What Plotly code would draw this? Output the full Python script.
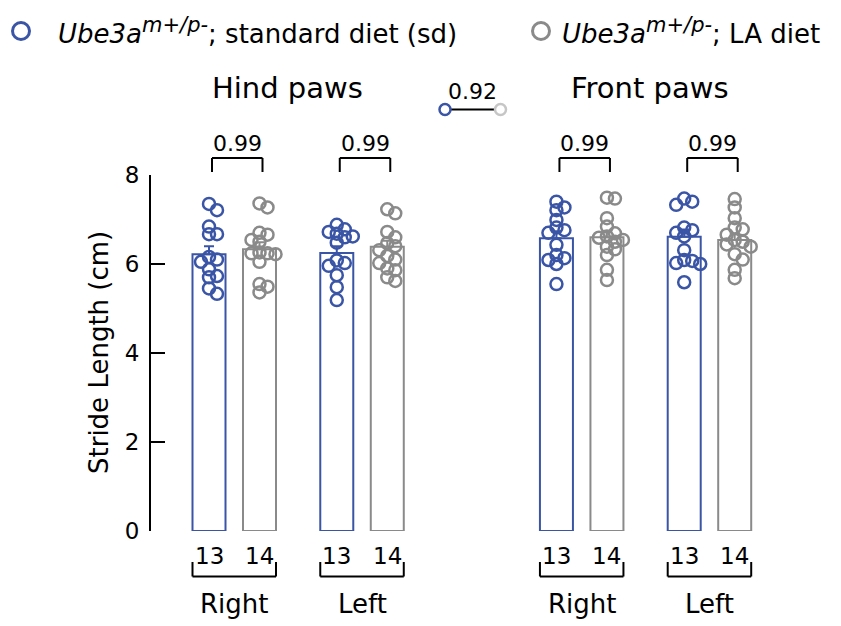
import numpy as np
import plotly.graph_objects as go

# ---- data: stride length (cm) per mouse ----
paws = ["Hind paws", "Front paws"]
sides = ["Right", "Left"]
diet_names = ["standard diet (sd)", "LA diet"]

hind_right_sd = [7.35, 7.21, 6.84, 6.67, 6.67, 6.16, 6.10, 6.05, 5.88, 5.73, 5.70, 5.45, 5.33]
hind_right_la = [7.36, 7.27, 6.70, 6.66, 6.54, 6.50, 6.26, 6.24, 6.24, 6.22, 6.05, 5.55, 5.49, 5.36]
hind_left_sd = [6.88, 6.78, 6.72, 6.68, 6.62, 6.60, 6.48, 6.08, 6.02, 5.96, 5.75, 5.48, 5.19]
hind_left_la = [7.23, 7.14, 6.72, 6.60, 6.47, 6.40, 6.31, 6.18, 6.10, 6.02, 5.90, 5.86, 5.70, 5.62]
front_right_sd = [7.40, 7.27, 7.21, 6.99, 6.82, 6.76, 6.70, 6.43, 6.20, 6.13, 6.09, 6.00, 5.55]
front_right_la = [7.49, 7.47, 7.03, 6.84, 6.69, 6.62, 6.59, 6.54, 6.50, 6.39, 6.33, 6.20, 5.87, 5.64]
front_left_sd = [7.47, 7.40, 7.33, 6.82, 6.76, 6.70, 6.62, 6.31, 6.09, 6.07, 6.02, 6.00, 5.59]
front_left_la = [7.46, 7.27, 7.03, 6.82, 6.78, 6.66, 6.54, 6.50, 6.44, 6.39, 6.22, 6.10, 5.87, 5.68]

# group means (bar heights), order: hind-right, hind-left, front-right, front-left
mean_sd = [6.22, 6.25, 6.58, 6.61]
mean_la = [6.33, 6.39, 6.60, 6.54]

# p-values: sd vs LA within each group, and the overall diet comparison
p_pairs = ["0.99", "0.99", "0.99", "0.99"]
p_overall = "0.92"

y_ticks = [0, 2, 4, 6, 8]

# ---- styling / geometry ----
FONT = "DejaVu Sans"
BLUE = "#3a55a6"
GREY = "#8a8a8a"
LIGHT = "#c6c6c6"
W, H = 841, 626
L, R, T, B = 151, 52, 175, 95
PW, PH = W - L - R, H - T - B
PX_X = 50.5                      # pixels per x unit
XMIN = -58 / PX_X
XMAX = XMIN + PW / PX_X
YMAX = 8
PX_Y = PH / YMAX
BAR_W = 33 / PX_X

sd_sets = [hind_right_sd, hind_left_sd, front_right_sd, front_left_sd]
la_sets = [hind_right_la, hind_left_la, front_right_la, front_left_la]

# x positions of sd bars; LA bar sits one unit to the right
SIDE_STEP, PAW_STEP = 2.53, 6.88
pos_sd = [p * PAW_STEP + s * SIDE_STEP for p in range(2) for s in range(2)]
pos_la = [x + 1 for x in pos_sd]

# centres of the two paw titles (pixels)
title_px = [287, 650]


def fx(px):
    return (px - L) / PW


def fy(py):
    return (H - B - py) / PH


def dx_to_paper(x):
    return (x - XMIN) / (XMAX - XMIN)


def swarm(vals, d=7.5, step=8.0):
    """Simple beeswarm offsets (in x units) so open circles do not stack."""
    placed = []
    order = np.argsort(vals)[::-1]
    out = np.zeros(len(vals))
    for i in order:
        y = vals[i] * PX_Y
        best, best_score = 0.0, -1
        for k in [0, 1, -1, 2, -2]:
            dx = k * step
            dmin = min([np.hypot(dx - px, y - py) for px, py in placed] or [1e9])
            if dmin >= d:
                best = dx
                break
            if dmin > best_score:
                best, best_score = dx, dmin
        placed.append((best, y))
        out[i] = best / PX_X
    return out


def sem(v):
    v = np.asarray(v)
    return float(np.std(v, ddof=1) / np.sqrt(len(v)))


fig = go.Figure()

for pos, means, sets, col in [(pos_sd, mean_sd, sd_sets, BLUE), (pos_la, mean_la, la_sets, GREY)]:
    fig.add_trace(go.Bar(
        x=pos, y=means, width=BAR_W,
        marker=dict(color="white", line=dict(color=col, width=2)),
        error_y=dict(type="data", symmetric=False, array=[sem(s) for s in sets],
                     arrayminus=[0] * len(sets), color=col, thickness=2, width=5),
        showlegend=False, hoverinfo="skip",
    ))

for pos, sets, col in [(pos_sd, sd_sets, BLUE), (pos_la, la_sets, GREY)]:
    for x0, vals in zip(pos, sets):
        v = np.asarray(vals)
        fig.add_trace(go.Scatter(
            x=x0 + swarm(v), y=v, mode="markers",
            marker=dict(symbol="circle-open", size=12, color=col, line=dict(width=2.5)),
            showlegend=False, hoverinfo="skip", cliponaxis=False,
        ))

shapes, anns = [], []


def text(t, px, py, size, **kw):
    anns.append(dict(text=t, x=fx(px), y=fy(py), xref="paper", yref="paper",
                     showarrow=False, xanchor=kw.pop("xanchor", "center"),
                     yanchor=kw.pop("yanchor", "middle"),
                     font=dict(family=FONT, size=size, color="black"), **kw))


def line(x0, y0, x1, y1, col="black", w=2):
    shapes.append(dict(type="line", xref="paper", yref="paper",
                       x0=x0, y0=y0, x1=x1, y1=y1, line=dict(color=col, width=w)))


def ring(px, py, r, col, w):
    shapes.append(dict(type="circle", xref="paper", yref="paper",
                       xsizemode="pixel", ysizemode="pixel",
                       xanchor=fx(px), yanchor=fy(py),
                       x0=-r, x1=r, y0=-r, y1=r,
                       line=dict(color=col, width=w), fillcolor="white"))


# pair brackets with p-values above, n and side labels below
for i in range(4):
    xa, xb = dx_to_paper(pos_sd[i]), dx_to_paper(pos_la[i])
    xa += 3 / PW
    xb += 3 / PW
    top, leg = fy(158), fy(172)
    line(xa, top, xb, top)
    line(xa, top, xa, leg)
    line(xb, top, xb, leg)
    xm_px = L + (xa + xb) / 2 * PW
    text(p_pairs[i], xm_px, 143, 22)

    # n under each bar
    for x0, vals in [(pos_sd[i], sd_sets[i]), (pos_la[i], la_sets[i])]:
        text(str(len(vals)), L + dx_to_paper(x0) * PW, 556, 23)
    la_edge = dx_to_paper(pos_sd[i] - BAR_W / 2)
    rb_edge = dx_to_paper(pos_la[i] + BAR_W / 2)
    bot, legtop = fy(576.5), fy(562)
    line(la_edge, bot, rb_edge, bot)
    line(la_edge, bot, la_edge, legtop)
    line(rb_edge, bot, rb_edge, legtop)
    text(sides[i % 2], L + (la_edge + rb_edge) / 2 * PW, 604, 26)

# paw titles
for p in range(2):
    text(paws[p], title_px[p], 88, 29)

# overall diet comparison
line(fx(445), fy(109.5), fx(500.5), fy(109.5))
ring(445, 109.5, 5.5, BLUE, 2.5)
ring(500.5, 109.5, 5.5, LIGHT, 2.5)
text(p_overall, 472.5, 91, 22)

# legend
geno = '<i>Ube3a<sup><span style="font-size:21px">m+/p-</span></sup></i>; '
ring(21, 31, 8.5, BLUE, 3)
text(geno + diet_names[0], 56, 31, 26, xanchor="left")
ring(541, 31, 8.5, GREY, 3)
text(geno + diet_names[1], 560, 31, 26, xanchor="left")

# y-axis title
text("Stride Length (cm)", 99, 353, 26, textangle=-90)

fig.update_layout(
    width=W, height=H, margin=dict(l=L, r=R, t=T, b=B),
    paper_bgcolor="white", plot_bgcolor="white",
    barmode="overlay", showlegend=False,
    shapes=shapes, annotations=anns,
    font=dict(family=FONT, color="black"),
)
fig.update_xaxes(range=[XMIN, XMAX], visible=False, fixedrange=True)
fig.update_yaxes(
    range=[0, YMAX], tickvals=y_ticks, ticktext=[str(t) for t in y_ticks],
    showline=True, linecolor="black", linewidth=2, mirror=False,
    ticks="inside", ticklen=14, tickwidth=2, tickcolor="black",
    showgrid=False, zeroline=False, ticklabelstandoff=5,
    tickfont=dict(family=FONT, size=23, color="black"), fixedrange=True,
)

fig.write_html("out.html")
